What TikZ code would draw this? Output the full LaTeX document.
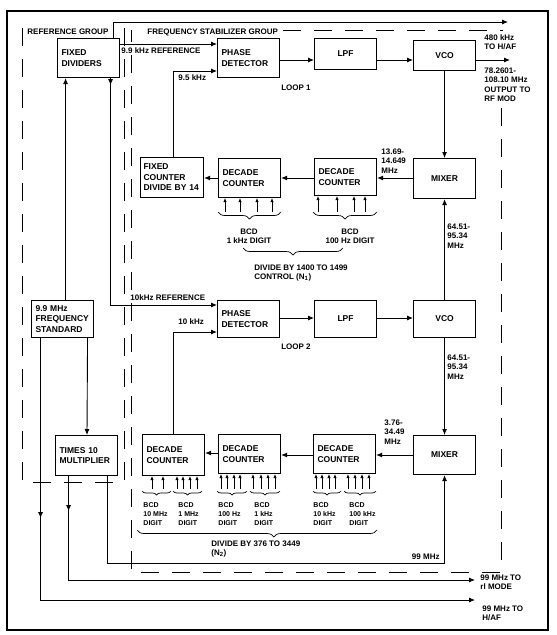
\documentclass[tikz,border=0pt]{standalone}
\usepackage{fontspec}
\setmainfont{Liberation Sans}
\usetikzlibrary{arrows.meta,decorations.pathreplacing,decorations.markings}
\begin{document}
\begin{tikzpicture}[x=1pt,y=-1pt,line width=0.9pt,>={Latex[length=6pt,width=5pt]},
  every node/.style={font=\fontsize{8}{9.5}\selectfont\bfseries},
  blk/.style={draw,line width=1.1pt,anchor=north west,inner xsep=4pt,inner ysep=2pt,
    text width=54pt,align=left,font=\fontsize{8.5}{10.5}\selectfont\bfseries},
  lbl/.style={inner sep=0pt,align=left},
  grp/.style={dash pattern=on 18pt off 13pt,line width=1pt},
  bin/.style={->,line width=0.7pt,>={Latex[length=4pt,width=3.5pt]}},
  brc/.style={decorate,decoration={brace,mirror,amplitude=#1},line width=0.7pt},
  bcd/.style={lbl,anchor=north west,font=\fontsize{7}{9}\selectfont\bfseries},
  midarr/.style={postaction={decorate},decoration={markings,mark=at position #1 with {\arrow{>}}}}]
\useasboundingbox (0,0) rectangle (557,635);
% frame and groups
\draw[line width=1.4pt] (7,11) rectangle (548,630);
\draw[grp] (22,28) -- (22,482) -- (124,482) -- (124,28);
\node[lbl,anchor=west] (refgrp) at (27,32) {REFERENCE GROUP};
\draw[grp] (283,30) -- (503,30);
\draw[grp] (501,108) -- (501,572) -- (131,572) -- (131,30);
\node[lbl,anchor=west] (stabgrp) at (147,32) {FREQUENCY STABILIZER GROUP};
% reference blocks
\node[blk,minimum height=39pt] (fd) at (57,38) {FIXED\\DIVIDERS};
\node[blk,minimum height=37pt] (fs) at (31,300) {9.9 MHz\\FREQUENCY\\STANDARD};
\node[blk,minimum height=40pt] (mult) at (55,435) {TIMES 10\\MULTIPLIER};
% loop 1 blocks
\node[blk,minimum height=39pt] (pdA) at (217,38) {PHASE\\DETECTOR};
\node[blk,align=center,minimum height=31pt] (lpfA) at (314,38) {LPF};
\node[blk,align=center,minimum height=30pt] (vcoA) at (413,40) {VCO};
\node[blk,align=center,minimum height=40pt] (mixA) at (413,158) {MIXER};
\node[blk,minimum height=37pt] (dcA2) at (314,158) {DECADE\\COUNTER};
\node[blk,minimum height=39pt] (dcA1) at (218,158) {DECADE\\COUNTER};
\node[blk,inner xsep=3pt,text width=57pt,minimum height=40pt] (fc) at (140,157) {FIXED\\COUNTER\\DIVIDE BY 14};
% loop 2 blocks
\node[blk,minimum height=37pt] (pdB) at (217,300) {PHASE\\DETECTOR};
\node[blk,align=center,minimum height=37pt] (lpfB) at (314,300) {LPF};
\node[blk,align=center,minimum height=37pt] (vcoB) at (413,300) {VCO};
\node[blk,align=center,minimum height=39pt] (mixB) at (413,435) {MIXER};
\node[blk,minimum height=39pt] (dcB3) at (313,434) {DECADE\\COUNTER};
\node[blk,minimum height=39pt] (dcB2) at (218,434) {DECADE\\COUNTER};
\node[blk,minimum height=41pt] (dcB1) at (142,434) {DECADE\\COUNTER};
% free ends and taps
\coordinate (hafA) at (508,22);
\coordinate (rfA) at (510,60);
\coordinate (modeB) at (475,580);
\coordinate (hafB) at (475,600);
\coordinate (fdtap) at ([xshift=22pt]fd.south);
% loop 1 signals
\draw[->] ([xshift=25pt]fd.north) |- (hafA);
\node[lbl,anchor=north west] (lhafA) at (484,34) {480 kHz\\TO H/AF};
\draw[->] (fd.east |- 0,44) -- (pdA.west |- 0,44);
\node[lbl,anchor=north west] (lrefA) at (121,47) {9.9 kHz REFERENCE};
\draw[->] (pdA.east |- 0,60) -- (lpfA.west |- 0,60);
\draw[->] (lpfA.east |- 0,60) -- (vcoA.west |- 0,60);
\draw[->] (vcoA.east |- 0,60) -- (rfA);
\node[lbl,anchor=north west] (lrfA) at (484,67) {78.2601-\\108.10 MHz\\OUTPUT TO\\RF MOD};
\node[lbl] (loopA) at (296,88) {LOOP 1};
\draw[->] (vcoA.south) -- (mixA.north);
\draw[->] (mixA.west |- 0,178) -- (dcA2.east |- 0,178);
\node[lbl,anchor=north west] (lmixA) at (381,148) {13.69-\\14.649\\MHz};
\draw[->] (dcA2.west |- 0,178) -- (dcA1.east |- 0,178);
\draw[->] (dcA1.west |- 0,178) -- (fc.east |- 0,178);
\draw[->] ([xshift=1.5pt]fc.north) |- (pdA.west |- 0,71);
\node[lbl,anchor=west] (lfbA) at (178,78) {9.5 kHz};
\draw[->] (vcoB.north) -- (mixA.south);
\node[lbl,anchor=north west] (lvcoA) at (447,223) {64.51-\\95.34\\MHz};
% loop 1 digit inputs
\foreach \x in {225,240,257,272} \draw[bin] (\x,212) -- (\x,0 |- dcA1.south);
\foreach \x in {318,337,354,365} \draw[bin] (\x,212) -- (\x,0 |- dcA2.south);
\draw[brc=7pt] (218,212) -- (281,212);
\draw[brc=7pt] (313,212) -- (377,212);
\node[lbl,align=center] (bcdA1) at (249,236) {BCD\\1 kHz DIGIT};
\node[lbl,align=center] (bcdA2) at (350,236) {BCD\\100 Hz DIGIT};
\draw[brc=7pt] (243,248) -- (343,248);
\node[lbl,anchor=north west] (nA) at (254,264) {DIVIDE BY 1400 TO 1499\\CONTROL (N\textsubscript{1})};
% loop 2 signals
\draw[->] ([xshift=3pt]fs.north) -- ([xshift=-23pt]fd.south);
\draw[->,midarr=7pt] (fdtap) |- (pdB.west |- 0,305);
\node[lbl,anchor=south west] (lrefB) at (130,301) {10kHz REFERENCE};
\draw[->] (pdB.east |- 0,318) -- (lpfB.west |- 0,318);
\draw[->] (lpfB.east |- 0,318) -- (vcoB.west |- 0,318);
\node[lbl] (loopB) at (296,347) {LOOP 2};
\draw[->] (vcoB.south) -- (mixB.north);
\node[lbl,anchor=north west] (lvcoB) at (447,354) {64.51-\\95.34\\MHz};
\draw[->] (mixB.west |- 0,455) -- (dcB3.east |- 0,455);
\node[lbl,anchor=north west] (lmixB) at (384,419) {3.76-\\34.49\\MHz};
\draw[->] (dcB3.west |- 0,455) -- (dcB2.east |- 0,455);
\draw[->] (dcB2.west |- 0,453) -- (dcB1.east |- 0,453);
\draw[->] (dcB1.north) |- (pdB.west |- 0,332);
\node[lbl,anchor=west] (lfbB) at (178,322) {10 kHz};
% standard and multiplier outputs
\draw[->] ([xshift=25pt]fs.south) -- (mult.north -| 87,0);
\draw[->,midarr=180pt] ([xshift=-22pt]fs.south) |- (hafB);
\draw[->,midarr=35pt] ([xshift=-18pt]mult.south) |- (modeB);
\draw[->] ([xshift=21pt]mult.south) |- (mixB.south |- 0,563) -- (mixB.south);
\node[lbl,anchor=south east] (l99) at (440,560) {99 MHz};
\node[lbl,anchor=north west] (lmode) at (480,574) {99 MHz TO\\rl MODE};
\node[lbl,anchor=north west] (lhafB) at (482,605) {99 MHz TO\\H/AF};
% loop 2 digit inputs
\foreach \x in {152,163,177,183,190,197} \draw[bin] (\x,489) -- (\x,0 |- dcB1.south);
\foreach \x in {221,227,234,240,253,261,268,275} \draw[bin] (\x,489) -- (\x,0 |- dcB2.south);
\foreach \x in {316,322,329,335,348,355,362,369} \draw[bin] (\x,489) -- (\x,0 |- dcB3.south);
\draw[brc=4pt] (142,491) -- (171,491);
\draw[brc=4pt] (173,491) -- (202,491);
\draw[brc=4pt] (217,491) -- (247,491);
\draw[brc=4pt] (250,491) -- (280,491);
\draw[brc=4pt] (313,491) -- (341,491);
\draw[brc=4pt] (344,491) -- (376,491);
\node[bcd] (bcdB1) at (143,502) {BCD\\10 MHz\\DIGIT};
\node[bcd] (bcdB2) at (178,502) {BCD\\1 MHz\\DIGIT};
\node[bcd] (bcdB3) at (218,502) {BCD\\100 Hz\\DIGIT};
\node[bcd] (bcdB4) at (254,502) {BCD\\1 kHz\\DIGIT};
\node[bcd] (bcdB5) at (313,502) {BCD\\10 kHz\\DIGIT};
\node[bcd] (bcdB6) at (349,502) {BCD\\100 kHz\\DIGIT};
\draw[decorate,decoration={brace,mirror,amplitude=7pt,aspect=0.57},line width=0.7pt] (137,530) -- (377,530);
\node[lbl,anchor=north west] (nB) at (211,540) {DIVIDE BY 376 TO 3449\\(N\textsubscript{2})};
\end{tikzpicture}
\end{document}
